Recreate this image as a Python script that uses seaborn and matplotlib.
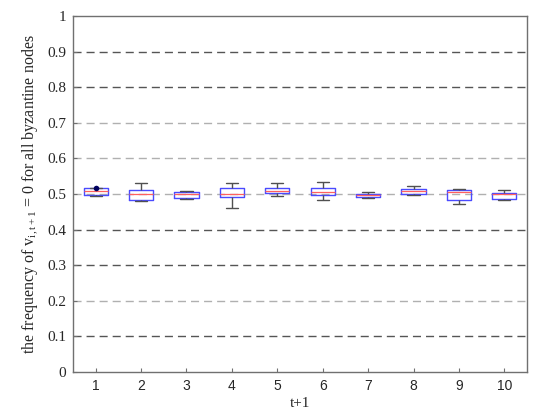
import pandas as pd
import seaborn as sns
from matplotlib import pyplot as plt

sns.set_style("white")
plt.rcParams["font.family"] = ["Liberation Serif", "DejaVu Serif"]
plt.rcParams["mathtext.fontset"] = "custom"
plt.rcParams["mathtext.rm"] = "Liberation Serif"
plt.rcParams["mathtext.it"] = "Liberation Serif:italic"

# t+1 categories and five-number summaries
steps = ["1", "2", "3", "4", "5", "6", "7", "8", "9", "10"]
low_whisker = [0.494, 0.481, 0.485, 0.461, 0.494, 0.484, 0.488, 0.498, 0.471, 0.484]
q1 = [0.496, 0.484, 0.488, 0.491, 0.504, 0.497, 0.491, 0.501, 0.484, 0.487]
median = [0.508, 0.501, 0.499, 0.501, 0.509, 0.505, 0.498, 0.508, 0.505, 0.500]
q3 = [0.518, 0.510, 0.505, 0.517, 0.518, 0.518, 0.501, 0.515, 0.510, 0.504]
high_whisker = [0.518, 0.530, 0.509, 0.530, 0.530, 0.534, 0.507, 0.522, 0.514, 0.510]

# single marked point
dot_step = ["1"]
dot_value = [0.516]

rows = []
for i, s in enumerate(steps):
    for v in (low_whisker[i], q1[i], median[i], q3[i], high_whisker[i]):
        rows.append({"t": s, "value": v})
df = pd.DataFrame(rows)

fig = plt.figure(figsize=(5.5, 4.2), dpi=100)
ax = fig.add_axes([0.1327, 0.1143, 0.8255, 0.8476])

sns.boxplot(
    data=df, x="t", y="value", order=steps, ax=ax,
    width=0.53, whis=(0, 100), fill=False, showfliers=False,
    boxprops=dict(color="#4a4aff", linewidth=1.0),
    medianprops=dict(color="#ff6060", linewidth=0.9),
    whiskerprops=dict(color="#505050", linewidth=1.0),
    capprops=dict(color="#505050", linewidth=1.0),
)
sns.stripplot(x=dot_step, y=dot_value, order=steps, ax=ax, jitter=False,
              color="#000060", size=4)

ax.set_ylim(0, 1)
ax.set_xlim(-0.5, 9.5)
ax.set_yticks([i / 10 for i in range(11)])
ax.set_yticklabels(["0", "0.1", "0.2", "0.3", "0.4", "0.5", "0.6", "0.7", "0.8", "0.9", "1"],
                   fontsize=11)
ax.set_xticks(range(len(steps)))
ax.set_xticklabels(steps, fontsize=10, family=["Liberation Sans", "DejaVu Sans"])

ax.yaxis.grid(True, linestyle=(0, (5.8, 3.6)), linewidth=1.0)
ax.set_axisbelow(True)
shades = ["#555555", "#555555", "#b0b0b0", "#555555", "#555555", "#b0b0b0",
          "#b0b0b0", "#b0b0b0", "#555555", "#555555", "#555555"]
for line, c in zip(ax.get_ygridlines(), shades):
    line.set_color(c)
ax.get_ygridlines()[0].set_visible(False)
ax.get_ygridlines()[-1].set_visible(False)

for sp in ax.spines.values():
    sp.set_color("#707070")
    sp.set_linewidth(1.0)
ax.tick_params(axis="both", direction="in", length=3, color="#707070",
               left=True, bottom=True, pad=5)

ax.set_xlabel("t+1", fontsize=11, labelpad=3)
ax.set_ylabel(r"the frequency of v$_{\mathrm{i,t+1}}$ = 0 for all byzantine nodes",
              fontsize=11.5, labelpad=5)

fig.savefig("out.png", dpi=100)
